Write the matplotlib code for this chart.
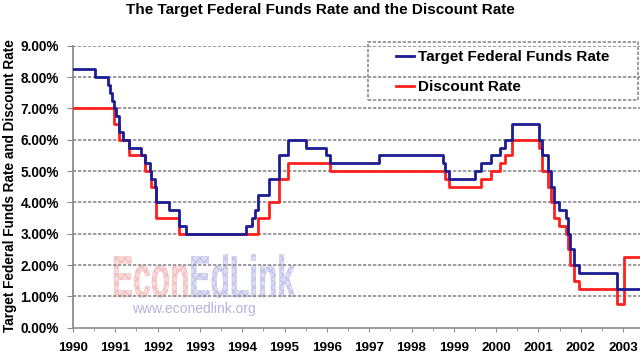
import matplotlib
matplotlib.use("Agg")
import matplotlib.pyplot as plt
from matplotlib.patches import Rectangle, PathPatch
from matplotlib.textpath import TextPath
from matplotlib.font_manager import FontProperties
from matplotlib.transforms import Affine2D
from matplotlib.ticker import FixedLocator, FuncFormatter

plt.rcParams['font.family'] = ['Liberation Sans', 'DejaVu Sans']

# change dates (decimal years) and new levels, in percent
fed_dates = [1990.00, 1990.53, 1990.82, 1990.87, 1990.93, 1990.96, 1991.02, 1991.09,
             1991.18, 1991.33, 1991.60, 1991.70, 1991.83, 1991.85, 1991.93, 1991.97,
             1992.27, 1992.50, 1992.68, 1994.10, 1994.22, 1994.30, 1994.38, 1994.63,
             1994.88, 1995.09, 1995.51, 1995.97, 1996.08, 1997.23, 1998.74, 1998.79,
             1998.88, 1999.50, 1999.65, 1999.88, 2000.09, 2000.22, 2000.38, 2001.01,
             2001.08, 2001.22, 2001.30, 2001.37, 2001.49, 2001.64, 2001.71, 2001.75,
             2001.85, 2001.95, 2002.85, 2003.40]
fed_rates = [8.25, 8.00, 7.75, 7.50, 7.25, 7.00, 6.75, 6.25,
             6.00, 5.75, 5.50, 5.25, 5.00, 4.75, 4.50, 4.00,
             3.75, 3.25, 3.00, 3.25, 3.50, 3.75, 4.25, 4.75,
             5.50, 6.00, 5.75, 5.50, 5.25, 5.50, 5.25, 5.00,
             4.75, 5.00, 5.25, 5.50, 5.75, 6.00, 6.50, 6.00,
             5.50, 5.00, 4.50, 4.00, 3.75, 3.50, 3.00, 2.50,
             2.00, 1.75, 1.25, 1.25]

disc_dates = [1990.00, 1990.96, 1991.09, 1991.33, 1991.70, 1991.85, 1991.97, 1992.50,
              1994.38, 1994.63, 1994.88, 1995.09, 1996.08, 1998.79, 1998.88, 1999.65,
              1999.88, 2000.09, 2000.22, 2000.38, 2001.01, 2001.08, 2001.22, 2001.30,
              2001.37, 2001.49, 2001.64, 2001.71, 2001.75, 2001.85, 2001.95, 2002.85,
              2003.02, 2003.40]
disc_rates = [7.00, 6.50, 6.00, 5.50, 5.00, 4.50, 3.50, 3.00,
              3.50, 4.00, 4.75, 5.25, 5.00, 4.75, 4.50, 4.75,
              5.00, 5.25, 5.50, 6.00, 5.75, 5.00, 4.50, 4.00,
              3.50, 3.25, 3.00, 2.50, 2.00, 1.50, 1.25, 0.75,
              2.25, 2.25]

years = list(range(1990, 2004))
half_years = [y + 0.5 for y in range(1990, 2003)]
y_ticks = [0, 1, 2, 3, 4, 5, 6, 7, 8, 9]

W, H = 640, 354
fig = plt.figure(figsize=(6.4, 3.54), dpi=100)
fig.patch.set_facecolor('white')
ax = fig.add_axes([73 / W, 1 - 327.7 / H, 1 - 73 / W, (327.7 - 45.7) / H])
ax.set_facecolor('none')

grid_col = '#8c8c8c'
ax.step(fed_dates, fed_rates, where='post', color='#1c1c94', lw=2.0,
        label='Target Federal Funds Rate', zorder=4)
ax.step(disc_dates, disc_rates, where='post', color='#ff1f1f', lw=2.0,
        label='Discount Rate', zorder=3)

ax.set_xlim(1990, 2003.4)
ax.set_ylim(0, 9)
ax.yaxis.set_major_locator(FixedLocator(y_ticks))
ax.yaxis.set_major_formatter(FuncFormatter(lambda v, p: '%.2f%%' % v))
ax.xaxis.set_major_locator(FixedLocator(years))
ax.xaxis.set_minor_locator(FixedLocator(half_years))

for v in y_ticks[1:]:
    ax.axhline(v, color=grid_col, lw=1.2, ls=(0, (2, 1)), zorder=1)

for s in ['top', 'right']:
    ax.spines[s].set_visible(False)
ax.spines['left'].set_color(grid_col)
ax.spines['left'].set_linewidth(1.3)
ax.spines['bottom'].set_color(grid_col)
ax.spines['bottom'].set_linewidth(1.2)
ax.spines['bottom'].set_linestyle((0, (2, 1)))

ax.tick_params(axis='both', which='both', color=grid_col, direction='out')
ax.tick_params(axis='y', length=4, pad=6, labelsize=9.8)
ax.tick_params(axis='x', which='major', length=3, pad=7, labelsize=9.6)
ax.tick_params(axis='x', which='minor', length=2)
for lab in ax.get_xticklabels() + ax.get_yticklabels():
    lab.set_fontweight('bold')

fig.text(0.5, 1 - 10 / H, 'The Target Federal Funds Rate and the Discount Rate',
         ha='center', va='center', fontsize=11, fontweight='bold')
fig.text(10 / W, 1 - 186 / H, 'Target Federal Funds Rate and Discount Rate',
         rotation=90, ha='center', va='center', fontsize=9.8, fontweight='bold')

# legend
leg = ax.legend(loc='upper left', bbox_to_anchor=(396 / W, 1 - 50 / H),
                bbox_transform=fig.transFigure, frameon=False, borderpad=0,
                borderaxespad=0, handlelength=1.2, handletextpad=0.25,
                labelspacing=1.05, prop={'weight': 'bold', 'size': 11})
fig.add_artist(Rectangle((368 / W, 1 - 100 / H), 270 / W, 58 / H,
                         transform=fig.transFigure, fill=False,
                         edgecolor='#8c8c8c', lw=1.2, ls=(0, (2, 1)), zorder=5))

# watermark
fp = FontProperties(family='Liberation Sans', weight='bold')
size = 58.7
p1 = TextPath((0, 0), 'Econ', size=size, prop=fp)
p2 = TextPath((0, 0), 'EdLink', size=size, prop=fp)
full = TextPath((0, 0), 'EconEdLink', size=size, prop=fp)
sx = 183 / full.get_extents().x1
adv = (full.get_extents().x1 - p2.get_extents().x1)
base_y = H - 297
fig.add_artist(PathPatch(p1, transform=Affine2D().scale(sx, 1).translate(112, base_y),
                         facecolor='#f8dada', edgecolor='#f2c0c0', lw=0.4,
                         hatch='xxxx', zorder=-1))
fig.add_artist(PathPatch(p2, transform=Affine2D().scale(sx, 1).translate(112 + sx * adv, base_y),
                         facecolor='#dcdcf2', edgecolor='#c4c4ea', lw=0.4,
                         hatch='xxxx', zorder=-1))
fig.text(132 / W, 1 - 309 / H, 'www.econedlink.org', ha='left', va='center',
         fontsize=10, color='#b4b4e0', zorder=-1)

fig.savefig('out.png', dpi=100, facecolor='white')
